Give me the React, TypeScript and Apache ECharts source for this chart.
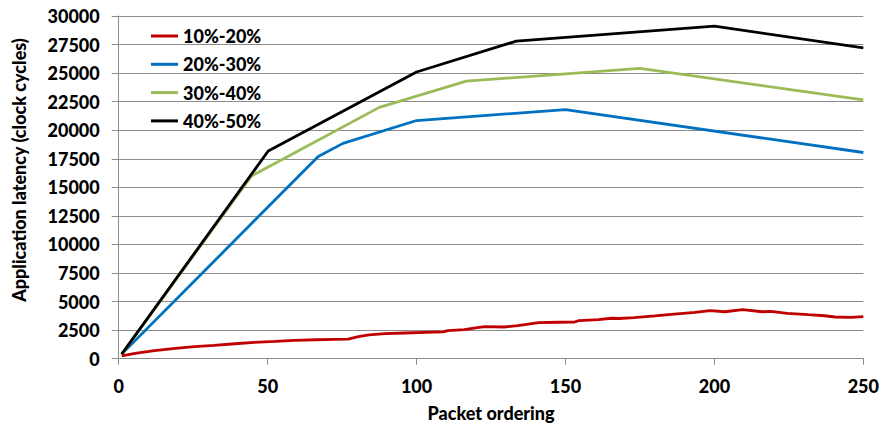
import React, { useEffect, useRef } from "react";
import * as echarts from "echarts";

const seriesNames = ["10%-20%", "20%-30%", "30%-40%", "40%-50%"];
const seriesColors = ["#C00000", "#0070C0", "#9BBB59", "#000000"];

const red: [number, number][] = [
  [1, 240], [5.5, 470], [12, 700], [19, 910], [25.5, 1050], [32, 1170], [39, 1310],
  [45.5, 1430], [52.5, 1520], [59, 1610], [66, 1660], [72.5, 1700], [77, 1720],
  [80.5, 1930], [84, 2080], [89.5, 2190], [96, 2250], [103, 2310], [109, 2340],
  [110.5, 2450], [116, 2540], [121, 2750], [123, 2800], [129.5, 2775], [134, 2890],
  [141, 3150], [147.5, 3190], [153, 3210], [154.5, 3330], [161, 3420], [165.5, 3540],
  [168, 3520], [173, 3590], [180, 3740], [186.5, 3910], [193.5, 4060], [198.5, 4200],
  [203.5, 4110], [209.5, 4290], [216, 4110], [219, 4150], [224.5, 3970], [231.5, 3850],
  [237, 3760], [240.5, 3650], [246, 3620], [250, 3680],
];
const blue: [number, number][] = [
  [1, 400], [67, 17700], [75.3, 18850], [100, 20850], [150, 21800], [250, 18050],
];
const green: [number, number][] = [
  [1, 400], [44.6, 16000], [87.5, 22000], [116.7, 24300], [175, 25420], [250, 22650],
];
const black: [number, number][] = [
  [1, 400], [50.2, 18180], [100, 25100], [133.5, 27800], [200, 29120], [250, 27200],
];

const xTicks = { min: 0, max: 250, interval: 50 };
const yTicks = { min: 0, max: 30000, interval: 2500 };

const FONT = "Lato";

export default function App() {
  const ref = useRef<HTMLDivElement>(null);
  useEffect(() => {
    if (!ref.current) return;
    const chart = echarts.init(ref.current, undefined, { renderer: "svg" });
    const data = [red, blue, green, black];
    const labelStyle = { fontFamily: FONT, fontWeight: 900, fontSize: 18, color: "#000" };
    chart.setOption({
      animation: false,
      backgroundColor: "#ffffff",
      grid: { left: 118.7, right: 17.7, top: 16, bottom: 69.3, containLabel: false },
      legend: {
        orient: "vertical",
        left: 146,
        top: 21,
        itemWidth: 27,
        itemHeight: 3,
        itemGap: 8.3,
        icon: "rect",
        data: seriesNames,
        textStyle: { ...labelStyle, lineHeight: 20 },
      },
      xAxis: {
        type: "value",
        min: xTicks.min,
        max: xTicks.max,
        interval: xTicks.interval,
        name: "Packet ordering",
        nameLocation: "middle",
        nameGap: 45,
        nameTextStyle: { ...labelStyle, fontSize: 18 },
        axisLine: { show: true, onZero: false, lineStyle: { color: "#8c8c8c", width: 1 } },
        axisTick: { show: true, inside: false, length: 6, lineStyle: { color: "#8c8c8c" } },
        axisLabel: { ...labelStyle, margin: 18, formatter: (v: number) => String(v) },
        splitLine: { show: false },
      },
      yAxis: {
        type: "value",
        min: yTicks.min,
        max: yTicks.max,
        interval: yTicks.interval,
        axisLine: { show: true, lineStyle: { color: "#8c8c8c", width: 1 } },
        axisTick: { show: true, inside: false, length: 7, lineStyle: { color: "#8c8c8c" } },
        axisLabel: { ...labelStyle, margin: 19, formatter: (v: number) => String(v) },
        splitLine: { show: true, lineStyle: { color: "#8c8c8c", width: 1 } },
      },
      graphic: [
        {
          type: "text",
          x: 19,
          y: 170,
          rotation: Math.PI / 2,
          style: {
            text: "Application latency (clock cycles)",
            fontFamily: FONT,
            fontWeight: 900,
            fontSize: 18,
            fill: "#000",
            align: "center",
            verticalAlign: "middle",
          },
        },
      ],
      series: seriesNames.map((n, i) => ({
        name: n,
        type: "line",
        data: data[i],
        showSymbol: false,
        symbol: "none",
        color: seriesColors[i],
        lineStyle: { color: seriesColors[i], width: 2.8 },
        z: 2 + i,
      })),
    });
    return () => chart.dispose();
  }, []);
  return (
    <div
      ref={ref}
      style={{ position: "fixed", left: 0, top: 0, width: 882, height: 428 }}
    />
  );
}
